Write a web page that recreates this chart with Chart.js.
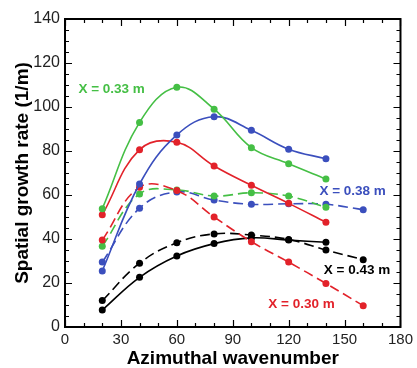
<!DOCTYPE html>
<html>
<head>
<meta charset="utf-8">
<script src="https://cdn.jsdelivr.net/npm/chart.js@4/dist/chart.umd.min.js"></script>
<style>
  body{ margin:0; background:#fff; }
  #wrap{ width:417px; height:368px; }
</style>
</head>
<body>
<div id="wrap"><canvas id="chart" width="417" height="368"></canvas></div>
<script>
// azimuthal wavenumber of each computed point
const waveNumbers = [20, 40, 60, 80, 100, 120, 140, 160];

// growth rates (1/m), solid curves
const redSolid   = [51, 80.6, 84, 73.2, 64.4, 56.2, 47.6];
const greenSolid = [53.8, 93, 109, 99, 81.5, 74.2, 67.3];
const blueSolid  = [25.5, 65, 87.3, 95.6, 89.4, 80.8, 76.5];
const blackSolid = [7.7, 22.6, 32.3, 37.9, 40.5, 39.5, 38.5];

// growth rates (1/m), dashed curves
const redDashed   = [39.5, 63.5, 62, 50, 38.8, 29.5, 19.8, 9.7];
const greenDashed = [36.7, 60.5, 62.3, 59.5, 61, 59.5, 54.4];
const blueDashed  = [29.5, 54, 61.4, 57.7, 55.8, 56, 55.8, 53.3];
const blackDashed = [12, 29, 38.3, 42.3, 41.8, 39.8, 35, 30.6];

const xTicks = [0, 30, 60, 90, 120, 150, 180];
const yTicks = [0, 20, 40, 60, 80, 100, 120, 140];

// labels placed in data coordinates
const labelTexts = ["X = 0.33 m", "X = 0.38 m", "X = 0.43 m", "X = 0.30 m"];
const labelX = [25, 154.3, 156.7, 126.9];
const labelY = [108.2, 61.8, 25.6, 10.5];

const RED = "#e2222a", GREEN = "#45bf45", BLUE = "#3b4fbd", BLACK = "#000000";
const labelColors = [GREEN, BLUE, BLACK, RED];

function pts(vals){
  return vals.map((v, i) => ({ x: waveNumbers[i], y: v }));
}

function series(vals, color, dashed){
  return {
    data: pts(vals),
    borderColor: color,
    backgroundColor: color,
    borderWidth: 1.6,
    borderDash: dashed ? [10, 5] : [],
    tension: 0.4,
    pointRadius: 3.5,
    pointBorderWidth: 0,
    pointBackgroundColor: color,
    fill: false
  };
}

const framePlugin = {
  id: "frame",
  afterDraw(chart){
    const ctx = chart.ctx;
    const a = chart.chartArea;
    const xs = chart.scales.x, ys = chart.scales.y;
    ctx.save();
    ctx.strokeStyle = "#000";
    ctx.lineWidth = 1.2;
    ctx.beginPath();
    for(let v = 0; v <= 180; v += 10){
      const px = Math.round(xs.getPixelForValue(v)) + 0.5;
      const len = v % 30 === 0 ? 7 : 4;
      ctx.moveTo(px, a.bottom); ctx.lineTo(px, a.bottom - len);
      ctx.moveTo(px, a.top); ctx.lineTo(px, a.top + len);
    }
    for(let v = 0; v <= 140; v += 5){
      const py = Math.round(ys.getPixelForValue(v)) + 0.5;
      const len = v % 20 === 0 ? 7 : 4;
      ctx.moveTo(a.left, py); ctx.lineTo(a.left + len, py);
      ctx.moveTo(a.right, py); ctx.lineTo(a.right - len, py);
    }
    ctx.stroke();
    ctx.lineWidth = 2;
    ctx.strokeRect(a.left, a.top, a.right - a.left, a.bottom - a.top);

    ctx.font = "bold 13.5px 'Liberation Sans', Arial, sans-serif";
    ctx.textAlign = "center";
    ctx.textBaseline = "middle";
    labelTexts.forEach((t, i) => {
      ctx.fillStyle = labelColors[i];
      ctx.fillText(t, xs.getPixelForValue(labelX[i]), ys.getPixelForValue(labelY[i]));
    });
    ctx.restore();
  }
};

new Chart(document.getElementById("chart"), {
  type: "line",
  data: {
    datasets: [
      series(greenSolid, GREEN, false),
      series(blueSolid, BLUE, false),
      series(redSolid, RED, false),
      series(redDashed, RED, true),
      series(greenDashed, GREEN, true),
      series(blueDashed, BLUE, true),
      series(blackDashed, BLACK, true),
      series(blackSolid, BLACK, false)
    ]
  },
  options: {
    responsive: false,
    animation: false,
    layout: { padding: { top: 19, right: 13, left: 0, bottom: 0 } },
    plugins: { legend: { display: false }, tooltip: { enabled: false } },
    scales: {
      x: {
        type: "linear",
        min: 0, max: 180,
        afterBuildTicks(s){ s.ticks = xTicks.map(v => ({ value: v })); },
        afterFit(s){ s.height = 41; },
        grid: { display: false, drawTicks: false },
        border: { display: false },
        ticks: {
          color: "#222",
          padding: 4,
          font: { family: "'Liberation Sans', Arial, sans-serif", size: 15 },
          maxRotation: 0
        },
        title: {
          display: true,
          text: "Azimuthal wavenumber",
          color: "#000",
          padding: { top: 0, bottom: 0 },
          font: { family: "'Liberation Sans', Arial, sans-serif", size: 19, weight: "bold", lineHeight: 1 }
        }
      },
      y: {
        min: 0, max: 140,
        afterBuildTicks(s){ s.ticks = yTicks.map(v => ({ value: v })); },
        afterFit(s){ s.width = 65; },
        grid: { display: false, drawTicks: false },
        border: { display: false },
        ticks: {
          color: "#222",
          padding: 5,
          font: { family: "'Liberation Sans', Arial, sans-serif", size: 16 }
        },
        title: {
          display: true,
          text: "Spatial growth rate (1/m)",
          color: "#000",
          padding: { top: 13, bottom: 0 },
          font: { family: "'Liberation Sans', Arial, sans-serif", size: 19, weight: "bold", lineHeight: 1 }
        }
      }
    }
  },
  plugins: [framePlugin]
});
</script>
</body>
</html>
